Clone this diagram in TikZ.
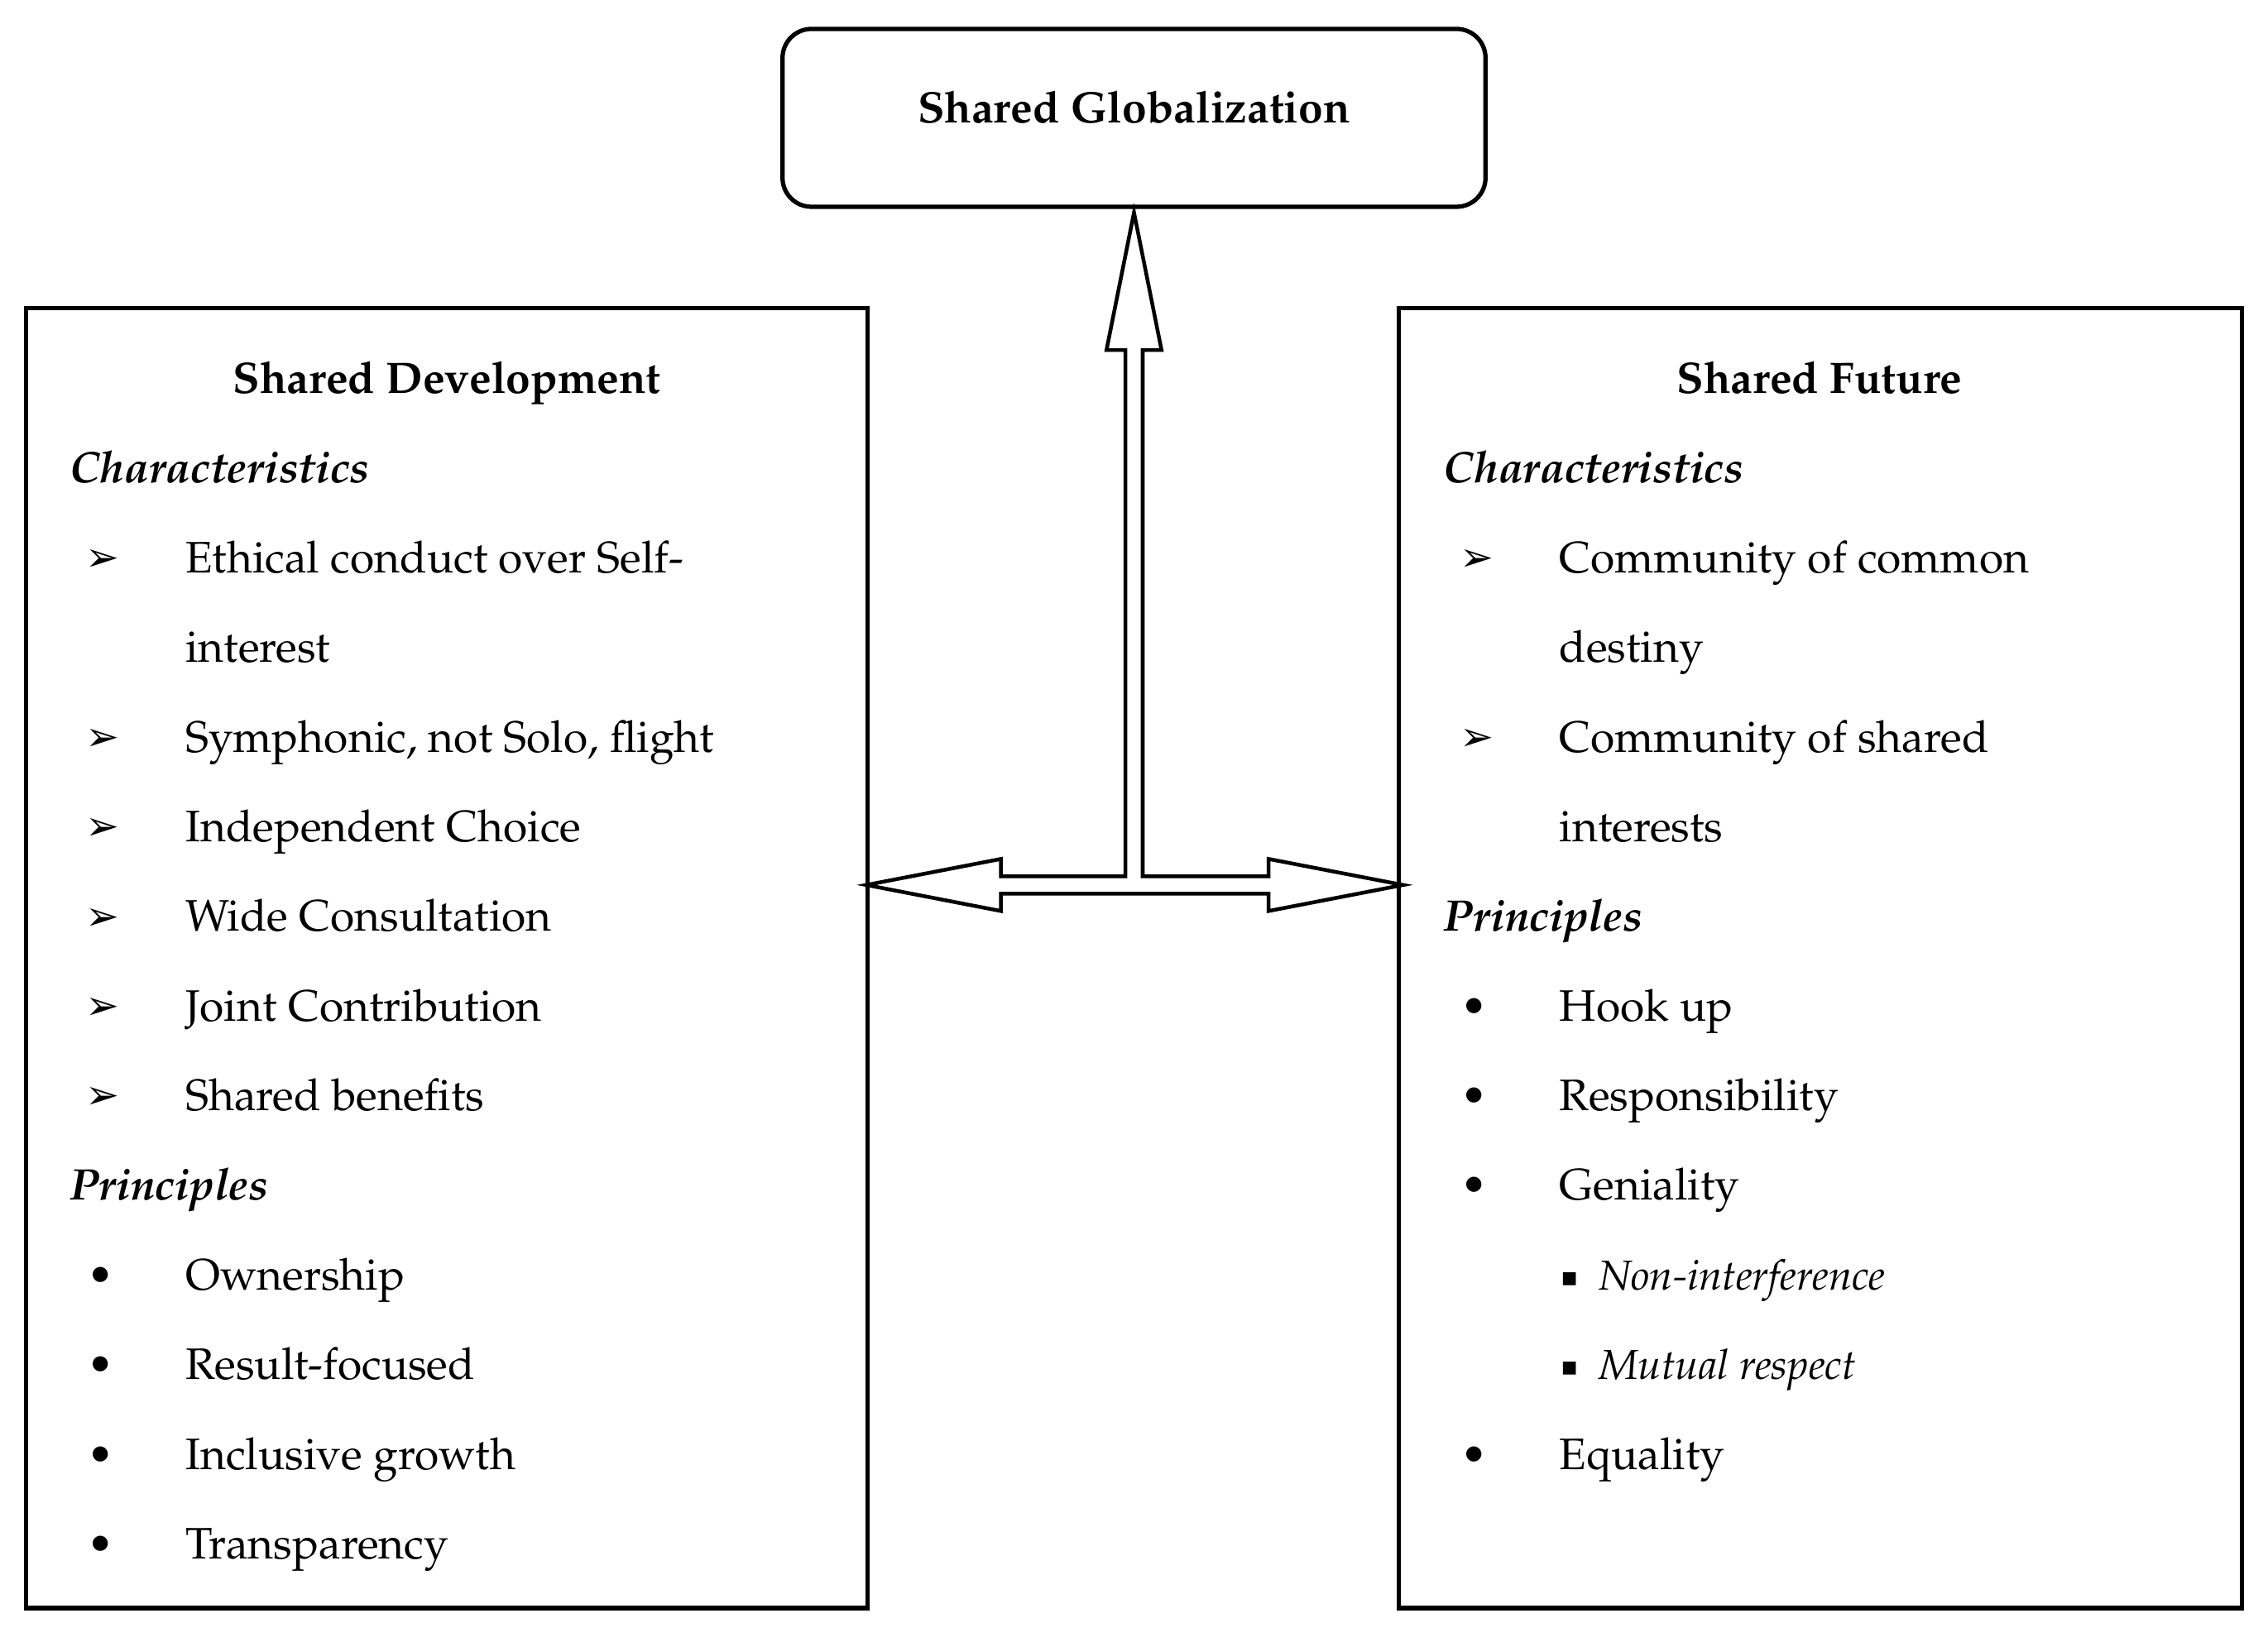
\documentclass[tikz,border=0pt]{standalone}
\usepackage{fontspec}
\newfontfamily\dv{DejaVu Sans}
\newcommand\pal{\fontencoding{T1}\fontfamily{ppl}\selectfont}
\begin{document}
\begin{tikzpicture}[x=1pt,y=-1pt,
  box/.style={draw,line width=3pt},
  txt/.style={anchor=base west,inner sep=0pt,font=\pal\fontsize{30.5}{36}\selectfont},
  ital/.style={anchor=base west,inner sep=0pt,font=\pal\fontsize{30.5}{36}\selectfont\itshape\bfseries},
  ttl/.style={anchor=base,inner sep=0pt,font=\pal\fontsize{30.5}{36}\selectfont\bfseries},
  sym/.style={anchor=base west,inner sep=0pt,font=\dv\fontsize{28}{30}\selectfont}]
\useasboundingbox (0,0) rectangle (1568,1135);
\draw[box,rounded corners=20pt] (541,20) rectangle (1027,143);
\node[ttl] (g) at (784,85) {Shared Globalization};
\draw[box] (18,213) rectangle (600,1112);
\draw[box] (967,213) rectangle (1550,1112);
\draw[line width=2.6pt,line join=miter] (784,147) -- (803,242) -- (790,242) -- (790,606) -- (877,606) -- (877,594) -- (970,612) -- (877,630) -- (877,618) -- (692,618) -- (692,630) -- (599,612) -- (692,594) -- (692,606) -- (778,606) -- (778,242) -- (765,242) -- cycle;
% left
\node[ttl] (lt) at (309,272) {Shared Development};
\node[ital] (lc) at (48,334) {Characteristics};
\foreach \n/\y/\t/\s in {a/396/{Ethical conduct over Self-}/1, b/458/{interest}/0, c/520/{Symphonic, not Solo, flight}/1, d/582/{Independent Choice}/1, e/644/{Wide Consultation}/1, f/706/{Joint Contribution}/1, h/768/{Shared benefits}/1}{
  \node[txt] (l\n) at (128,\y) {\t};
  \ifnum\s=1 \node[sym] (ls\n) at (59,\y-1) {➢};\fi
}
\node[ital] (lp) at (48,830) {Principles};
\foreach \n/\y/\t in {i/892/Ownership, j/954/Result-focused, k/1016/Inclusive growth, m/1078/Transparency}{
  \node[txt] (l\n) at (128,\y) {\t};
  \node[txt] (lb\n) at (60,\y) {\textbullet};
}
% right
\node[ttl] (rt) at (1258,272) {Shared Future};
\node[ital] (rc) at (998,334) {Characteristics};
\foreach \n/\y/\t/\s in {a/396/{Community of common}/1, b/458/{destiny}/0, c/520/{Community of shared}/1, d/582/{interests}/0}{
  \node[txt] (r\n) at (1078,\y) {\t};
  \ifnum\s=1 \node[sym] (rs\n) at (1009,\y-1) {➢};\fi
}
\node[ital] (rp) at (998,644) {Principles};
\foreach \n/\y/\t in {e/706/Hook up, f/768/Responsibility, h/830/Geniality, m/1016/Equality}{
  \node[txt] (r\n) at (1078,\y) {\t};
  \node[txt] (rb\n) at (1010,\y) {\textbullet};
}
\foreach \n/\y/\t in {i/892/Non-interference, j/954/Mutual respect}{
  \node[txt,font=\pal\fontsize{29}{34}\selectfont\itshape] (r\n) at (1105,\y) {\t};
  \node[sym,font=\dv\fontsize{18}{20}\selectfont] (rq\n) at (1079,\y-3) {▪};
}
\end{tikzpicture}
\end{document}
